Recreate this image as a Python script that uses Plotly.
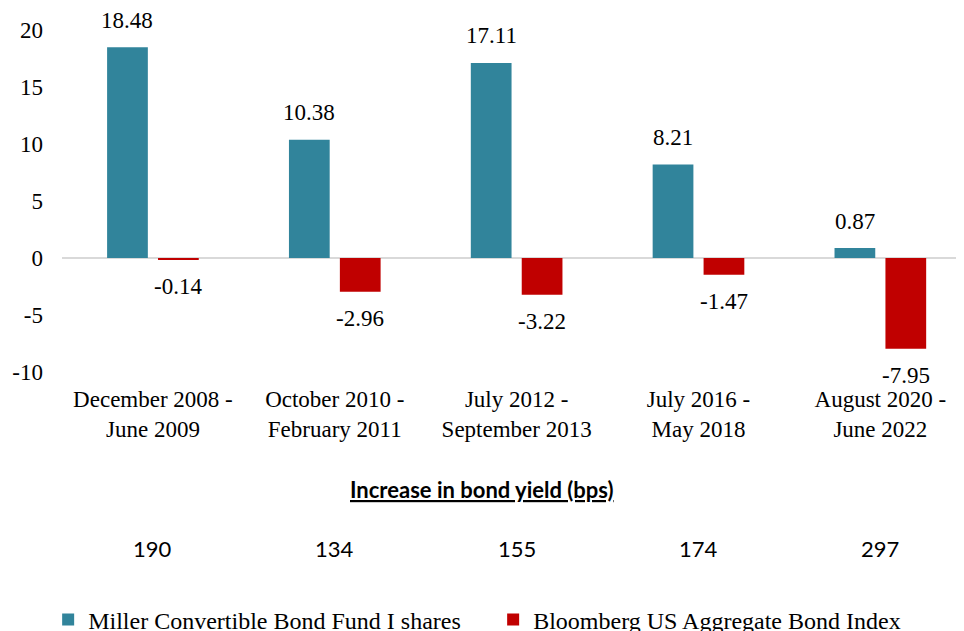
import plotly.graph_objects as go

categories = ["December 2008 -<br>June 2009", "October 2010 -<br>February 2011",
              "July 2012 -<br>September 2013", "July 2016 -<br>May 2018",
              "August 2020 -<br>June 2022"]
miller = [18.48, 10.38, 17.11, 8.21, 0.87]
bloomberg = [-0.14, -2.96, -3.22, -1.47, -7.95]
bond_yield_bps = [190, 134, 155, 174, 297]
y_ticks = [-10, -5, 0, 5, 10, 15, 20]
y_tick_labels = ["-10", "-5", "0", "5", "10", "15", "20"]

BLUE = "#31849B"
RED = "#C00000"
SERIF = "Liberation Serif, Times New Roman, serif"
SANS = "Lato, Open Sans, sans-serif"

xs = list(range(len(categories)))

fig = go.Figure()
fig.add_bar(x=xs, y=miller, name="Miller Convertible Bond Fund I shares",
            marker=dict(color=BLUE, line=dict(width=0)))
fig.add_bar(x=xs, y=bloomberg, name="Bloomberg US Aggregate Bond Index",
            marker=dict(color=RED, line=dict(width=0)))

annotations = []
offset_px = 25.5
for i, (a, b) in enumerate(zip(miller, bloomberg)):
    for v, dx in ((a, -offset_px), (b, offset_px)):
        annotations.append(dict(x=i, y=v, xref="x", yref="y", text=f"{v:.2f}",
                                showarrow=False, xshift=dx,
                                yshift=27 if v >= 0 else -27,
                                font=dict(family=SERIF, size=23, color="#000"),
                                xanchor="center", yanchor="middle"))
annotations.append(dict(x=0.466, y=-0.345, xref="paper", yref="paper",
                        text="<b><u>Increase in bond yield (bps)</u></b>",
                        showarrow=False, font=dict(family=SANS, size=22, color="#000"),
                        xanchor="center", yanchor="middle"))
for i, v in enumerate(bond_yield_bps):
    annotations.append(dict(x=i, y=-0.515, xref="x", yref="paper", text=str(v),
                            showarrow=False, font=dict(family=SANS, size=22, color="#000"),
                            xanchor="center", yanchor="middle"))

fig.update_layout(
    width=956, height=623,
    margin=dict(l=54, r=0, t=22, b=259, autoexpand=False),
    paper_bgcolor="white", plot_bgcolor="white",
    barmode="group", bargap=0.44, bargroupgap=0.2,
    showlegend=True,
    legend=dict(orientation="h", xref="container", yref="container",
                x=0.042, xanchor="left", y=0.018, yanchor="middle",
                font=dict(family=SERIF, size=24, color="#000"),
                entrywidth=400, entrywidthmode="pixels", itemwidth=30,
                tracegroupgap=0),
    annotations=annotations,
    xaxis=dict(range=[-0.5, 4.46], tickvals=xs, ticktext=categories,
               showgrid=False, zeroline=False, showline=False, ticks="",
               tickfont=dict(family=SERIF, size=23, color="#000"),
               ticklabelstandoff=11, automargin=False),
    yaxis=dict(range=[-10, 20], tickvals=y_ticks, ticktext=y_tick_labels,
               showgrid=False,
               zeroline=True, zerolinecolor="#D9D9D9", zerolinewidth=2,
               showline=False, ticks="",
               tickfont=dict(family=SERIF, size=23, color="#000"),
               ticklabelstandoff=18, automargin=False),
)

fig.write_html("out.html")
